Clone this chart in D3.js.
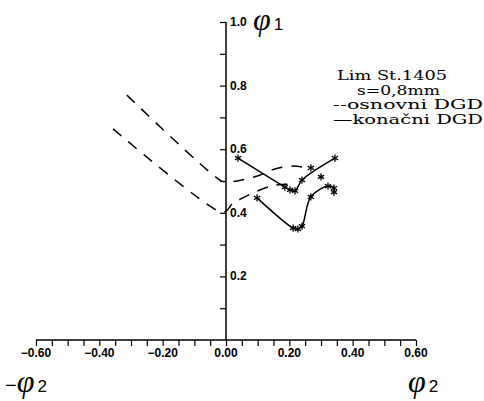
<!DOCTYPE html>
<html>
<head>
<meta charset="utf-8">
<script src="https://cdn.jsdelivr.net/npm/d3@7"></script>
<style>
  body { margin: 0; background: #fff; }
  svg { display: block; }
  .tick-lbl { font-family: "Liberation Sans", Arial, sans-serif; font-weight: bold; font-size: 12px; }
  .leg { font-family: "DejaVu Serif", serif; font-size: 12.5px; }
  .phi { font-family: "Liberation Serif", serif; font-style: italic; }
</style>
</head>
<body>
<div id="chart"></div>
<script>
// ticks
const xTickLabels = [-0.6, -0.4, -0.2, 0, 0.2, 0.4, 0.6];
const yTickLabels = [0.2, 0.4, 0.6, 0.8, 1.0];

// osnovni DGD (dashed)
const osnovniUpper = [[-0.313, 0.770], [-0.019, 0.503], [0.0, 0.497], [0.05, 0.503], [0.108, 0.519], [0.155, 0.538], [0.212, 0.547], [0.24, 0.544]];
const osnovniLower = [[-0.357, 0.664], [-0.019, 0.403], [0.0, 0.405], [0.022, 0.431], [0.04, 0.44], [0.09, 0.465], [0.155, 0.487], [0.20, 0.49]];

// konacni DGD (solid with stars)
const konacniUpper = [[0.038, 0.572], [0.186, 0.481], [0.202, 0.472], [0.218, 0.469], [0.240, 0.503], [0.344, 0.572]];
const konacniLower = [[0.098, 0.447], [0.212, 0.352], [0.227, 0.349], [0.240, 0.358], [0.268, 0.450], [0.322, 0.484], [0.341, 0.478], [0.341, 0.465]];
const looseStars = [[0.268, 0.541], [0.30, 0.513]];

const legendLines = ["Lim St.1405", "s=0,8mm", "--osnovni DGD", "\u2014konačni DGD"];

const width = 484, height = 401;
const svg = d3.select("#chart").append("svg")
  .attr("width", width)
  .attr("height", height);

const x = d3.scaleLinear().domain([-0.6, 0.6]).range([36, 416]);
const y = d3.scaleLinear().domain([0, 1]).range([340, 22]);

// x axis
const xAxis = svg.append("g")
  .attr("transform", `translate(0,${y(0)})`)
  .call(d3.axisBottom(x).tickValues(d3.range(-0.6, 0.6001, 0.05)).tickSize(6).tickFormat(""));
xAxis.select(".domain").attr("d", `M${x(-0.6)},0H${x(0.6)}`).attr("stroke-width", 1.5);
xAxis.selectAll(".tick line").attr("stroke-width", 1.2);

svg.selectAll(".xlbl").data(xTickLabels).join("text")
  .attr("class", "tick-lbl")
  .attr("x", d => x(d))
  .attr("y", y(0) + 17)
  .attr("text-anchor", "middle")
  .text(d => d3.format(".2f")(d));

// y axis
const yAxis = svg.append("g")
  .attr("transform", `translate(${x(0)},0)`)
  .call(d3.axisLeft(y).tickValues(d3.range(0.1, 1.0001, 0.1)).tickSize(6).tickFormat(""));
yAxis.select(".domain").attr("d", `M0,${y(0)}V${y(1)}`).attr("stroke-width", 1.5);
yAxis.selectAll(".tick line").attr("stroke-width", 1.2);

svg.selectAll(".ylbl").data(yTickLabels).join("text")
  .attr("class", "tick-lbl")
  .attr("x", x(0) + 4)
  .attr("y", d => y(d) + 4)
  .text(d => d3.format(".1f")(d));

// curves
const dashLine = d3.line().x(d => x(d[0])).y(d => y(d[1])).curve(d3.curveCatmullRom.alpha(0.5));
const solidLine = d3.line().x(d => x(d[0])).y(d => y(d[1])).curve(d3.curveCatmullRom.alpha(0.5));

[osnovniUpper, osnovniLower].forEach(s => {
  svg.append("path")
    .attr("d", dashLine(s))
    .attr("fill", "none")
    .attr("stroke", "#000")
    .attr("stroke-width", 1.5)
    .attr("stroke-dasharray", "11,9");
});

[konacniUpper, konacniLower].forEach(s => {
  svg.append("path")
    .attr("d", solidLine(s))
    .attr("fill", "none")
    .attr("stroke", "#000")
    .attr("stroke-width", 1.5);
});

const star = d3.symbol().type(d3.symbolAsterisk).size(36);
svg.selectAll(".star")
  .data(konacniUpper.concat(konacniLower, looseStars))
  .join("path")
  .attr("d", star)
  .attr("transform", d => `translate(${x(d[0])},${y(d[1])})`)
  .attr("fill", "none")
  .attr("stroke", "#000")
  .attr("stroke-width", 1.3);

// legend text
const legX = [337, 357, 333, 333];
const legW = [110, 83, 150, 150];
svg.selectAll(".leg").data(legendLines).join("text")
  .attr("class", "leg")
  .attr("x", (d, i) => legX[i])
  .attr("y", (d, i) => 80 + i * 14.5)
  .attr("textLength", (d, i) => legW[i])
  .attr("lengthAdjust", "spacingAndGlyphs")
  .text(d => d);

// axis symbols
const phi1 = svg.append("text").attr("class", "phi").attr("x", 253).attr("y", 30);
phi1.append("tspan").attr("font-size", 32).text("φ");
phi1.append("tspan").attr("font-family", "Liberation Sans, sans-serif").attr("font-size", 17).attr("font-style", "normal").attr("dx", 3).text("1");

const phiNeg = svg.append("text").attr("class", "phi").attr("x", 5).attr("y", 392);
phiNeg.append("tspan").attr("font-family", "Liberation Sans, sans-serif").attr("font-size", 20).attr("font-style", "normal").text("\u2212");
phiNeg.append("tspan").attr("font-size", 32).text("φ");
phiNeg.append("tspan").attr("font-family", "Liberation Sans, sans-serif").attr("font-size", 17).attr("font-style", "normal").attr("dx", 3).text("2");

const phi2 = svg.append("text").attr("class", "phi").attr("x", 408).attr("y", 392);
phi2.append("tspan").attr("font-size", 32).text("φ");
phi2.append("tspan").attr("font-family", "Liberation Sans, sans-serif").attr("font-size", 17).attr("font-style", "normal").attr("dx", 3).text("2");
</script>
</body>
</html>
